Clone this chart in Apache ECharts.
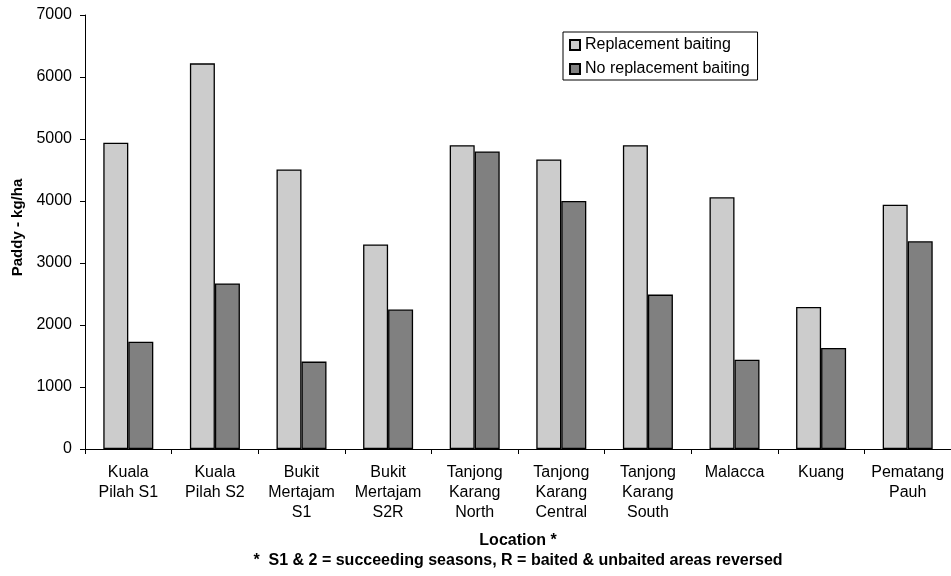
<!DOCTYPE html>
<html>
<head>
<meta charset="utf-8">
<title>Paddy yield by location</title>
<script src="https://cdn.jsdelivr.net/npm/echarts@6/dist/echarts.min.js"></script>
<style>
  html, body { margin: 0; padding: 0; background: #ffffff; }
  #chart { width: 951px; height: 576px; }
</style>
</head>
<body>
<div id="chart"></div>
<script>
// Locations (multi-line labels)
const locations = [
  'Kuala\nPilah S1',
  'Kuala\nPilah S2',
  'Bukit\nMertajam\nS1',
  'Bukit\nMertajam\nS2R',
  'Tanjong\nKarang\nNorth',
  'Tanjong\nKarang\nCentral',
  'Tanjong\nKarang\nSouth',
  'Malacca',
  'Kuang',
  'Pematang\nPauh'
];

// Paddy yield, kg/ha
const replacementBaiting = [4940, 6220, 4510, 3300, 4900, 4670, 4900, 4060, 2290, 3940];
const noReplacementBaiting = [1730, 2670, 1410, 2250, 4800, 4000, 2490, 1440, 1630, 3350];

const seriesNames = ['Replacement baiting', 'No replacement baiting'];
const yTicks = { min: 0, max: 7000, interval: 1000 };

const FONT = '"Liberation Sans", Arial, sans-serif';

const chart = echarts.init(document.getElementById('chart'), null, { renderer: 'canvas' });

chart.setOption({
  animation: false,
  backgroundColor: '#ffffff',
  textStyle: { fontFamily: FONT, color: '#000' },
  grid: { left: 85, right: -3, top: 15, bottom: 122, containLabel: false },
  legend: {
    orient: 'vertical',
    left: 563,
    top: 32,
    padding: [5, 8, 3, 6],
    itemGap: 8,
    itemWidth: 10,
    itemHeight: 10,
    icon: 'rect',
    borderColor: '#000',
    borderWidth: 1,
    backgroundColor: '#fff',
    textStyle: { fontFamily: FONT, fontSize: 16, color: '#000' },
    data: seriesNames
  },
  xAxis: {
    type: 'category',
    data: locations,
    boundaryGap: true,
    name: 'Location *\n*  S1 & 2 = succeeding seasons, R = baited & unbaited areas reversed',
    nameLocation: 'middle',
    nameGap: 82,
    nameTextStyle: {
      fontFamily: FONT, fontSize: 16, fontWeight: 'bold', color: '#000',
      lineHeight: 20, align: 'center', verticalAlign: 'top'
    },
    axisLine: { show: true, lineStyle: { color: '#000', width: 1 } },
    axisTick: { show: true, length: 5, inside: false, lineStyle: { color: '#000' } },
    axisLabel: {
      interval: 0, margin: 14, fontFamily: FONT, fontSize: 16, color: '#000',
      lineHeight: 20, align: 'center'
    },
    splitLine: { show: false }
  },
  yAxis: {
    type: 'value',
    min: yTicks.min,
    max: yTicks.max,
    interval: yTicks.interval,
    name: 'Paddy - kg/ha',
    nameLocation: 'middle',
    nameRotate: 90,
    nameGap: 58,
    nameTextStyle: {
      fontFamily: FONT, fontSize: 15, fontWeight: 'bold', color: '#000',
      padding: [0, 0, 0, 9]
    },
    axisLine: { show: true, lineStyle: { color: '#000', width: 1 } },
    axisTick: { show: true, length: 5, lineStyle: { color: '#000' } },
    axisLabel: {
      margin: 13, fontFamily: FONT, fontSize: 16, color: '#000',
      formatter: (v) => String(v)
    },
    splitLine: { show: false }
  },
  series: [
    {
      name: seriesNames[0],
      type: 'bar',
      data: replacementBaiting,
      barWidth: 25,
      barGap: '0%',
      itemStyle: { color: '#cccccc', borderColor: '#000', borderWidth: 1.3 }
    },
    {
      name: seriesNames[1],
      type: 'bar',
      data: noReplacementBaiting,
      barWidth: 25,
      barGap: '0%',
      itemStyle: { color: '#808080', borderColor: '#000', borderWidth: 1.3 }
    }
  ]
});
</script>
</body>
</html>
